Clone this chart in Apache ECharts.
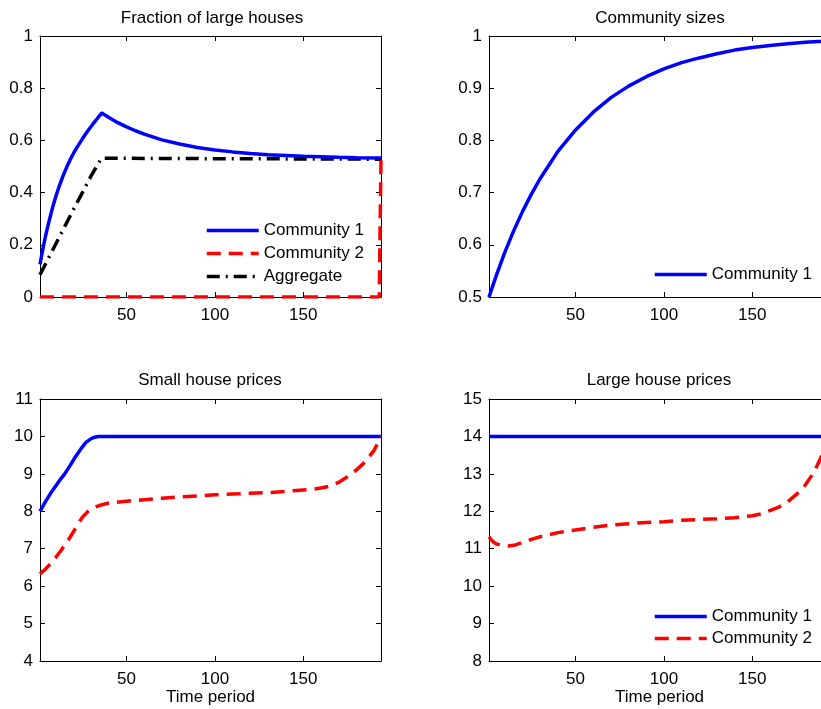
<!DOCTYPE html>
<html>
<head>
<meta charset="utf-8">
<script src="https://cdn.jsdelivr.net/npm/echarts@6/dist/echarts.min.js"></script>
<style>
  html, body { margin: 0; padding: 0; background: #fff; overflow: hidden; }
  #chart { width: 840px; height: 709px; }
</style>
</head>
<body>
<div id="chart"></div>
<script>
// ---------- data ----------
const titles = ['Fraction of large houses', 'Community sizes', 'Small house prices', 'Large house prices'];
const xTicks = [50, 100, 150];

// Fraction of large houses
const frac1X = [1,2,3,4,5,6,8,10,12,14,16,18,20,22,25,28,31,33,35,36,38,40,45,50,55,60,70,80,90,100,110,120,130,140,150,160,170,180,194];
const frac1Y = [0.125,0.162,0.197,0.229,0.259,0.287,0.340,0.386,0.427,0.463,0.496,0.525,0.551,0.574,0.606,0.636,0.663,0.680,0.697,0.705,0.696,0.688,0.668,0.652,0.637,0.624,0.602,0.586,0.573,0.563,0.556,0.550,0.545,0.542,0.539,0.537,0.535,0.534,0.533];
const frac2X = [1, 193, 194];
const frac2Y = [0, 0, 0.53];
const fracAggX = [1,5,10,15,20,25,30,33,35,36,60,100,150,194];
const fracAggY = [0.085,0.138,0.204,0.270,0.336,0.400,0.465,0.500,0.522,0.532,0.531,0.530,0.529,0.528];

// Community sizes
const sizeX = [1,5,10,15,20,25,30,40,50,60,70,80,90,100,110,120,130,140,150,160,170,180,190,194];
const sizeY = [0.500,0.540,0.586,0.627,0.664,0.697,0.727,0.779,0.820,0.854,0.882,0.904,0.922,0.937,0.949,0.958,0.966,0.973,0.978,0.982,0.985,0.988,0.990,0.991];

// Small house prices
const small1X = [1,4,7,10,13,15,16,18,21,24,27,30,32,34,194];
const small1Y = [8.00,8.25,8.48,8.68,8.88,9.00,9.04,9.22,9.45,9.66,9.84,9.94,9.98,10.00,10.00];
const small2X = [1,4,7,10,13,16,19,22,25,28,31,35,40,50,60,70,80,90,100,110,120,130,140,150,155,160,165,170,175,180,185,190,194];
const small2Y = [6.33,6.45,6.60,6.77,6.96,7.16,7.38,7.62,7.84,7.99,8.09,8.16,8.22,8.27,8.31,8.35,8.38,8.41,8.44,8.46,8.48,8.50,8.53,8.57,8.59,8.62,8.67,8.77,8.92,9.10,9.32,9.62,10.00];

// Large house prices
const large1X = [1, 194];
const large1Y = [14, 14];
const large2X = [1,3,5,8,12,16,20,25,30,40,50,60,70,80,90,100,110,120,130,140,150,155,160,165,170,175,180,185,190,194];
const large2Y = [11.32,11.20,11.13,11.09,11.07,11.10,11.17,11.25,11.32,11.43,11.50,11.57,11.63,11.67,11.70,11.72,11.76,11.78,11.80,11.83,11.88,11.93,12.02,12.11,12.25,12.45,12.70,13.05,13.55,14.00];

// y axis ranges [min, max, interval]
const yRanges = [[0, 1, 0.2], [0.5, 1, 0.1], [4, 11, 1], [8, 15, 1]];

// ---------- layout / styles ----------
const FONT = '"Liberation Sans", Arial, Helvetica, sans-serif';
const grids = [
  { left: 40,  top: 36,  width: 341, height: 261 },
  { left: 489, top: 36,  width: 341, height: 261 },
  { left: 40,  top: 399, width: 341, height: 262 },
  { left: 489, top: 399, width: 341, height: 262 }
];
const titlePos = [[212, 18], [660, 18], [210, 380], [659, 380]];

const BLUE = '#0000ff', RED = '#ff0000', BLACK = '#000000';
const LW = 3.5;
const solidBlue = { color: BLUE, width: LW, type: 'solid' };
const dashRed = { color: RED, width: LW, type: [14, 8] };
const dashDot = { color: BLACK, width: LW, type: [13, 6, 2, 6] };

function pairs(xs, ys) { return xs.map((x, i) => [x, ys[i]]); }

const xAxes = [], yAxes = [];
grids.forEach((g, i) => {
  const isBottom = i >= 2;
  const common = {
    gridIndex: i, type: 'value', min: 1, max: 194,
    axisLine: { show: true, onZero: false, lineStyle: { color: BLACK, width: 1 } },
    axisTick: { show: true, inside: true, length: 5, customValues: xTicks, lineStyle: { color: BLACK, width: 1 } },
    splitLine: { show: false }
  };
  xAxes.push(Object.assign({}, common, {
    position: 'bottom',
    name: isBottom ? 'Time period' : '',
    nameLocation: 'middle', nameGap: 27,
    nameTextStyle: { color: BLACK, fontSize: 17, fontFamily: FONT },
    axisLabel: { show: true, customValues: xTicks, margin: 10, color: BLACK, fontSize: 17, fontFamily: FONT }
  }));
  xAxes.push(Object.assign({}, common, { position: 'top', axisLabel: { show: false } }));
  const r = yRanges[i];
  const ycommon = {
    gridIndex: i, type: 'value', min: r[0], max: r[1], interval: r[2],
    axisLine: { show: true, onZero: false, lineStyle: { color: BLACK, width: 1 } },
    axisTick: { show: true, inside: true, length: 5, lineStyle: { color: BLACK, width: 1 } },
    splitLine: { show: false }
  };
  yAxes.push(Object.assign({}, ycommon, {
    position: 'left',
    axisLabel: { show: true, margin: 7, color: BLACK, fontSize: 17, fontFamily: FONT }
  }));
  yAxes.push(Object.assign({}, ycommon, { position: 'right', axisLabel: { show: false } }));
});

function line(name, gi, xs, ys, ls, z) {
  return {
    name: name, type: 'line', xAxisIndex: 2 * gi, yAxisIndex: 2 * gi,
    data: pairs(xs, ys), symbol: 'none', showSymbol: false, smooth: false,
    lineStyle: ls, itemStyle: { color: ls.color }, color: ls.color,
    animation: false, z: z || 2, clip: true
  };
}

const series = [
  line('Community 1', 0, frac1X, frac1Y, solidBlue, 3),
  line('Community 2', 0, frac2X, frac2Y, dashRed, 4),
  line('Aggregate', 0, fracAggX, fracAggY, dashDot, 2),
  line('Community 1', 1, sizeX, sizeY, solidBlue, 3),
  line('Community 1', 2, small1X, small1Y, solidBlue, 3),
  line('Community 2', 2, small2X, small2Y, dashRed, 4),
  line('Community 1', 3, large1X, large1Y, solidBlue, 3),
  line('Community 2', 3, large2X, large2Y, dashRed, 4)
];

const legendText = { color: BLACK, fontSize: 17, fontFamily: FONT };
const legends = [
  { data: ['Community 1', 'Community 2', 'Aggregate'], left: 205, top: 222, itemGap: 6 },
  { data: ['Community 1'], left: 653, top: 266, itemGap: 6 },
  { data: ['Community 1', 'Community 2'], left: 653, top: 608, itemGap: 5 }
].map(l => Object.assign({
  orient: 'vertical', itemWidth: 52, itemHeight: 14, selectedMode: false,
  textStyle: legendText, padding: 0,
  itemStyle: { opacity: 0 },
  lineStyle: { width: LW }
}, l));

const graphics = titles.map((t, i) => ({
  type: 'text', x: titlePos[i][0], y: titlePos[i][1], silent: true,
  style: { text: t, align: 'center', verticalAlign: 'middle', fill: BLACK, fontSize: 17, fontFamily: FONT }
}));

const chart = echarts.init(document.getElementById('chart'), null, { renderer: 'canvas' });
chart.setOption({
  backgroundColor: '#ffffff',
  animation: false,
  grid: grids,
  xAxis: xAxes,
  yAxis: yAxes,
  legend: legends,
  graphic: graphics,
  series: series
});
</script>
</body>
</html>
